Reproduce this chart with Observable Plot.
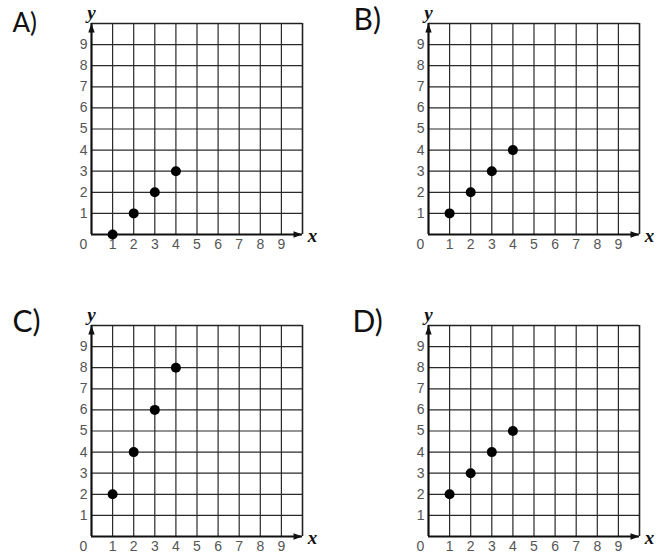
<!DOCTYPE html>
<html>
<head>
<meta charset="utf-8">
<script src="https://cdn.jsdelivr.net/npm/d3@7"></script>
<script src="https://cdn.jsdelivr.net/npm/@observablehq/plot@0.6"></script>
<style>
  html, body { margin: 0; padding: 0; background: #fff; }
  #wrap { position: relative; width: 662px; height: 555px; overflow: hidden; }
  #wrap svg { position: absolute; overflow: visible; background: transparent; }
</style>
</head>
<body>
<div id="wrap"></div>
<script>
// ---- data ----
const panelLabels = ["A)", "B)", "C)", "D)"];
const xValues = [1, 2, 3, 4];
const yA = [0, 1, 2, 3];
const yB = [1, 2, 3, 4];
const yC = [2, 4, 6, 8];
const yD = [2, 3, 4, 5];
const xTickLabels = [0, 1, 2, 3, 4, 5, 6, 7, 8, 9];
const yTickLabels = [1, 2, 3, 4, 5, 6, 7, 8, 9];
const gridLines = [1, 2, 3, 4, 5, 6, 7, 8, 9];
const axisMax = 10;

const seriesList = [yA, yB, yC, yD];

// layout for each panel (positions only)
const layouts = [
  {left: 0,   top: 0,   width: 331, height: 260, mL: 91, mR: 29, mT: 23, mB: 26, lab: {dx: -79, dy: -10, size: 26}},
  {left: 331, top: 0,   width: 331, height: 260, mL: 97, mR: 23, mT: 23, mB: 26, lab: {dx: -75, dy: -15, size: 30}},
  {left: 0,   top: 290, width: 331, height: 265, mL: 91, mR: 29, mT: 35, mB: 19, lab: {dx: -79, dy: -15, size: 30}},
  {left: 331, top: 290, width: 331, height: 265, mL: 97, mR: 23, mT: 35, mB: 19, lab: {dx: -76, dy: -15, size: 30}}
];

const arrowHead = {
  draw(ctx) {
    ctx.moveTo(0, 0);
    ctx.lineTo(-3.2, 9);
    ctx.lineTo(3.2, 9);
    ctx.closePath();
  }
};

const tickFont = "Liberation Sans, Arial, sans-serif";
const wrap = document.getElementById("wrap");

panelLabels.forEach((label, i) => {
  const L = layouts[i];
  const pts = xValues.map((x, j) => ({x, y: seriesList[i][j]}));
  const zeroLabel = [{x: xTickLabels[0], y: 0, t: String(xTickLabels[0])}];
  const plot = Plot.plot({
    width: L.width,
    height: L.height,
    marginLeft: L.mL,
    marginRight: L.mR,
    marginTop: L.mT,
    marginBottom: L.mB,
    style: {background: "transparent", overflow: "visible"},
    x: {domain: [0, axisMax], axis: null},
    y: {domain: [0, axisMax], axis: null},
    marks: [
      // grid
      Plot.ruleX(gridLines, {stroke: "#2a2a2a", strokeWidth: 1.2}),
      Plot.ruleY(gridLines, {stroke: "#2a2a2a", strokeWidth: 1.2}),
      // outer frame (top/right)
      Plot.ruleX([axisMax], {stroke: "#222", strokeWidth: 1.6}),
      Plot.ruleY([axisMax], {stroke: "#222", strokeWidth: 1.6}),
      // axes
      Plot.ruleX([0], {stroke: "#111", strokeWidth: 2.2}),
      Plot.ruleY([0], {stroke: "#111", strokeWidth: 2.2}),
      // arrowheads
      Plot.dot([{x: 0, y: axisMax}], {x: "x", y: "y", symbol: arrowHead, fill: "#111", stroke: "none"}),
      Plot.dot([{x: axisMax, y: 0}], {x: "x", y: "y", symbol: arrowHead, fill: "#111", stroke: "none", rotate: 90}),
      // tick labels
      Plot.axisX(xTickLabels.slice(1), {label: null, tickSize: 0, tickPadding: 5, fontSize: 14, fill: "#555", fontFamily: tickFont}),
      Plot.axisY(yTickLabels, {label: null, tickSize: 0, tickPadding: 4, fontSize: 14, fill: "#555", fontFamily: tickFont}),
      Plot.text(zeroLabel, {x: "x", y: "y", text: "t", dx: -8, dy: 5, lineAnchor: "top", fontSize: 14, fill: "#555", fontFamily: tickFont}),
      // axis names
      Plot.text([{x: axisMax, y: 0, t: "x"}], {x: "x", y: "y", text: "t", dx: 10, dy: 1, fontSize: 19, fontWeight: "bold", fontStyle: "italic", fontFamily: "Liberation Serif, Times New Roman, serif", fill: "#111"}),
      Plot.text([{x: 0, y: axisMax, t: "y"}], {x: "x", y: "y", text: "t", dx: 0, dy: -11, fontSize: 19, fontWeight: "bold", fontStyle: "italic", fontFamily: "Liberation Serif, Times New Roman, serif", fill: "#111"}),
      // data points
      Plot.dot(pts, {x: "x", y: "y", r: 5, fill: "#000", stroke: "none"}),
      // panel label
      Plot.text([label], {frameAnchor: "top-left", text: d => d, textAnchor: "start", lineAnchor: "top", dx: L.lab.dx, dy: L.lab.dy, fontSize: L.lab.size, fontWeight: 400, fontFamily: "Lato, Noto Sans, sans-serif", fill: "#111"})
    ]
  });
  plot.style.left = L.left + "px";
  plot.style.top = L.top + "px";
  wrap.appendChild(plot);
});
</script>
</body>
</html>
